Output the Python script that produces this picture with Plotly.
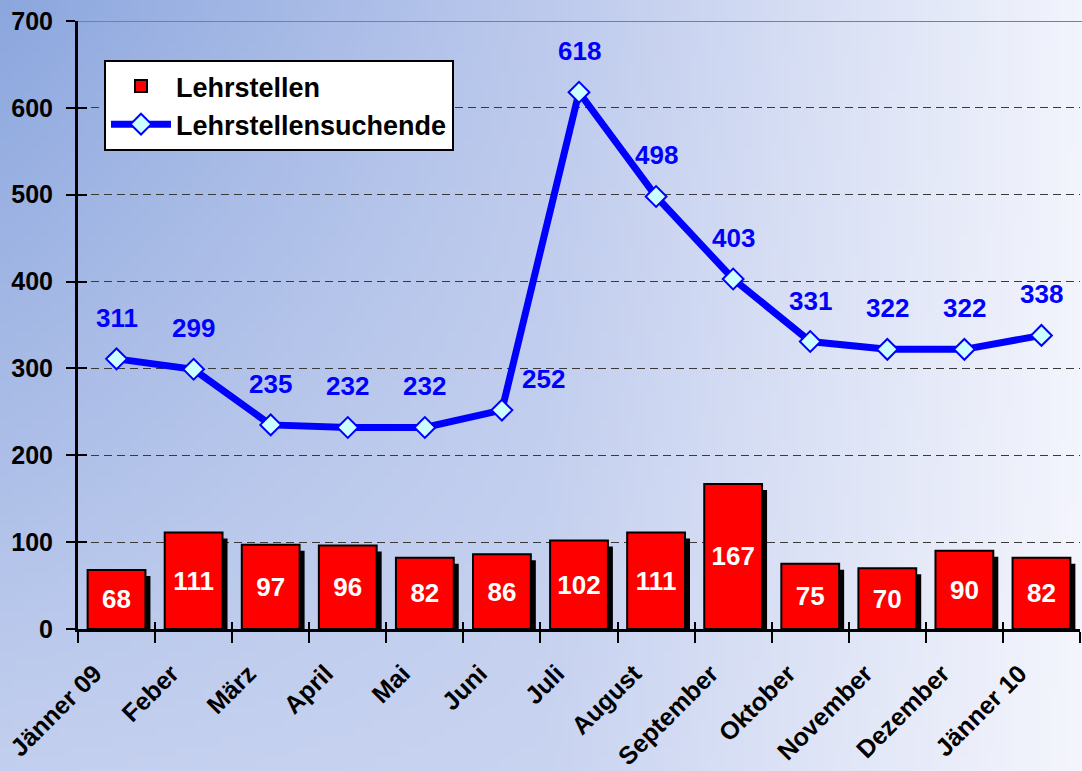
import base64, struct, zlib
import plotly.graph_objects as go

# ---------------- data ----------------
months = ["Jänner 09", "Feber", "März", "April", "Mai", "Juni", "Juli",
          "August", "September", "Oktober", "November", "Dezember", "Jänner 10"]
lehrstellen = [68, 111, 97, 96, 82, 86, 102, 111, 167, 75, 70, 90, 82]
suchende = [311, 299, 235, 232, 232, 252, 618, 498, 403, 331, 322, 322, 338]
y_ticks = [0, 100, 200, 300, 400, 500, 600, 700]

W, H = 1082, 771

# ---------------- background gradient as PNG ----------------
def make_png(w, h, func):
    raw = bytearray()
    for j in range(h):
        raw.append(0)
        for i in range(w):
            raw.extend(func(i / (w - 1), j / (h - 1)))
    def chunk(t, d):
        c = struct.pack(">I", len(d)) + t + d
        return c + struct.pack(">I", zlib.crc32(t + d) & 0xffffffff)
    sig = b"\x89PNG\r\n\x1a\n"
    ihdr = struct.pack(">IIBBBBB", w, h, 8, 2, 0, 0, 0)
    return sig + chunk(b"IHDR", ihdr) + chunk(b"IDAT", zlib.compress(bytes(raw), 9)) + chunk(b"IEND", b"")

cols_x = [0.0, 0.5, 1.0]
top = [(140, 167, 222), (188, 201, 236), (242, 244, 252)]
bot = [(195, 207, 238), (200, 211, 240), (244, 245, 252)]

def grad(u, v):
    k = 0 if u <= 0.5 else 1
    t = (u - cols_x[k]) / (cols_x[k + 1] - cols_x[k])
    out = []
    for c in range(3):
        a = top[k][c] + (top[k + 1][c] - top[k][c]) * t
        b = bot[k][c] + (bot[k + 1][c] - bot[k][c]) * t
        out.append(int(round(a + (b - a) * v)))
    return out

png = make_png(120, 80, grad)
src = "data:image/png;base64," + base64.b64encode(png).decode()

# ---------------- geometry ----------------
x0p, x1p = 78 / W, 1080 / W
y0p, y1p = 1 - 629 / H, 1 - 21 / H
px_per_unit = (629 - 21) / 700
cat_px = (1080 - 78) / 13
shadow_dx = 5 / cat_px
shadow_dy = 6 / px_per_unit

FONT = "Liberation Sans, Arial, sans-serif"
bar_w = 0.75

fig = go.Figure()

# shadows on main axes (drawn first)
fig.add_trace(go.Bar(
    x=months, y=[v - shadow_dy for v in lehrstellen],
    width=bar_w, offset=-bar_w / 2 + shadow_dx,
    marker=dict(color="black", line=dict(width=0)),
    showlegend=False, hoverinfo="skip", xaxis="x", yaxis="y"))

# main bars on overlay axes
fig.add_trace(go.Bar(
    x=months, y=lehrstellen, name="Lehrstellen",
    width=bar_w, offset=-bar_w / 2,
    marker=dict(color="#FF0000", line=dict(color="black", width=2)),
    text=[str(v) for v in lehrstellen], textposition="inside",
    insidetextanchor="middle", textangle=0, constraintext="none",
    textfont=dict(family=FONT, size=26, color="white", weight="bold"),
    xaxis="x2", yaxis="y2"))

fig.add_trace(go.Scatter(
    x=months, y=suchende, name="Lehrstellensuchende", mode="lines+markers",
    line=dict(color="#0000FF", width=7),
    marker=dict(symbol="diamond", size=16, color="#CCFFFF",
                line=dict(color="#0000FF", width=2)),
    xaxis="x2", yaxis="y2"))

annotations = []
for m, v in zip(months, suchende):
    if m == "Juni":
        xs, ys = 42, 31
    else:
        xs, ys = 0, 41
    annotations.append(dict(
        x=m, y=v, xref="x2", yref="y2", text=str(v), showarrow=False,
        xshift=xs, yshift=ys,
        font=dict(family=FONT, size=26, color="#0000FF", weight="bold")))

xtickfont = dict(family=FONT, size=25, color="black", weight="bold")
ytickfont = dict(family=FONT, size=25, color="black", weight="bold")

fig.update_layout(
    width=W, height=H, autosize=False,
    margin=dict(l=0, r=0, t=0, b=0, pad=0, autoexpand=False),
    paper_bgcolor="white", plot_bgcolor="rgba(0,0,0,0)",
    barmode="overlay", bargap=0.25,
    images=[dict(source=src, xref="paper", yref="paper", x=0, y=1,
                 sizex=1, sizey=1, sizing="stretch", layer="below",
                 xanchor="left", yanchor="top")],
    xaxis=dict(domain=[x0p, x1p], type="category", categoryorder="array",
               categoryarray=months, range=[-0.5, 12.5],
               tickson="boundaries", ticks="outside", ticklen=11,
               tickwidth=2, tickcolor="black", tickangle=-45,
               ticklabelshift=-22, ticklabelstandoff=17,
               tickfont=xtickfont, showline=True, linecolor="black",
               linewidth=3, showgrid=False, anchor="y", fixedrange=True,
               automargin=False),
    yaxis=dict(domain=[y0p, y1p], range=[0, 700], tickvals=y_ticks,
               ticks="outside", ticklen=9, tickwidth=2, tickcolor="black",
               ticklabelstandoff=8,
               tickfont=ytickfont, showline=True, linecolor="black",
               linewidth=3, showgrid=True, gridcolor="#3a3a3a",
               gridwidth=1, griddash="8px,5px", zeroline=False,
               anchor="x", fixedrange=True, automargin=False),
    xaxis2=dict(overlaying="x", anchor="y2", type="category",
                categoryorder="array", categoryarray=months,
                range=[-0.5, 12.5], tickson="boundaries", ticks="inside",
                ticklen=7, tickwidth=2, tickcolor="black",
                showticklabels=False, showgrid=False, showline=False,
                fixedrange=True, automargin=False),
    yaxis2=dict(overlaying="y", anchor="x2", range=[0, 700],
                tickvals=y_ticks, ticks="inside", ticklen=9, tickwidth=2,
                tickcolor="black", showticklabels=False, showgrid=False,
                showline=False, zeroline=False, fixedrange=True,
                automargin=False),
    legend=dict(x=104 / W, y=1 - 60 / H, xanchor="left", yanchor="top",
                bgcolor="white", bordercolor="black", borderwidth=2,
                font=dict(family=FONT, size=27, color="black", weight="bold"),
                itemwidth=60, tracegroupgap=0),
    shapes=[dict(type="line", xref="paper", yref="y", x0=x0p, x1=1,
                 y0=700, y1=700, line=dict(color="#808080", width=2),
                 layer="above")],
    annotations=annotations,
    showlegend=True,
)

fig.write_html("out.html", config={"displayModeBar": False},
               post_script="document.body.style.margin='0';"
                           "document.body.style.overflow='hidden';")
